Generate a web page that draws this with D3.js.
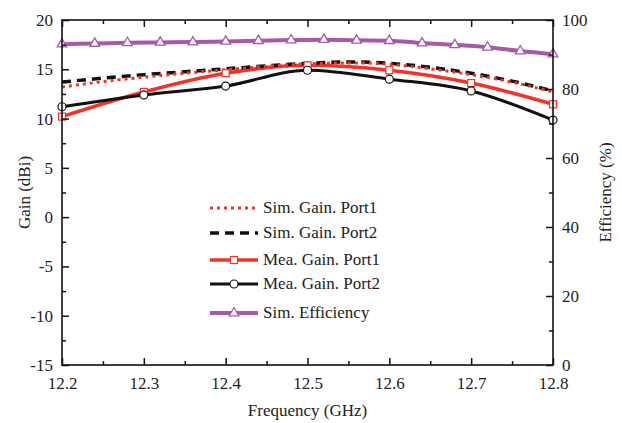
<!DOCTYPE html>
<html>
<head>
<meta charset="UTF-8">
<script src="https://cdnjs.cloudflare.com/ajax/libs/d3/7.8.5/d3.min.js"></script>
<style>
  body { margin: 0; background: #fff; }
  svg text { font-family: "Liberation Serif", "Times New Roman", serif !important; fill: #222; }
</style>
</head>
<body>
<svg width="622" height="423"></svg>
<script>
// frequencies (GHz)
const simFreq = [12.2, 12.25, 12.3, 12.35, 12.4, 12.45, 12.5, 12.55, 12.6, 12.65, 12.7, 12.75, 12.8];
const simPort1 = [13.2, 13.75, 14.2, 14.6, 14.95, 15.3, 15.55, 15.65, 15.5, 15.05, 14.45, 13.7, 12.7];
const simPort2 = [13.7, 14.1, 14.45, 14.75, 15.05, 15.35, 15.6, 15.75, 15.6, 15.2, 14.6, 13.8, 12.8];

const meaFreq = [12.2, 12.3, 12.4, 12.5, 12.6, 12.7, 12.8];
const meaPort1 = [10.2, 12.7, 14.6, 15.4, 14.9, 13.6, 11.45];
const meaPort2 = [11.2, 12.4, 13.3, 14.9, 14.0, 12.8, 9.85];

const effFreq = [12.2, 12.24, 12.28, 12.32, 12.36, 12.4, 12.44, 12.48, 12.52, 12.56, 12.6, 12.64, 12.68, 12.72, 12.76, 12.8];
const efficiency = [93.0, 93.2, 93.4, 93.5, 93.6, 93.8, 94.0, 94.2, 94.3, 94.1, 94.0, 93.3, 92.8, 92.1, 91.0, 90.1];

const xTicks = [12.2, 12.3, 12.4, 12.5, 12.6, 12.7, 12.8];
const gainTicks = [-15, -10, -5, 0, 5, 10, 15, 20];
const effTicks = [0, 20, 40, 60, 80, 100];

const svg = d3.select("svg");
const L = 62, R = 553, T = 20, B = 365;

const x = d3.scaleLinear().domain([12.2, 12.8]).range([L, R]);
const yG = d3.scaleLinear().domain([-15, 20]).range([B, T]);
const yE = d3.scaleLinear().domain([0, 100]).range([B, T]);

const red = "#f2332a", purple = "#a65aa8", black = "#111";
const fs = 17;

// series lines
function drawLine(xs, ys, yScale, color, width, dash) {
  svg.append("path")
    .datum(xs.map((f, i) => [f, ys[i]]))
    .attr("fill", "none")
    .attr("stroke", color)
    .attr("stroke-width", width)
    .attr("stroke-dasharray", dash || null)
    .attr("stroke-linejoin", "round")
    .attr("d", d3.line().x(d => x(d[0])).y(d => yScale(d[1])).curve(d3.curveMonotoneX));
}

drawLine(effFreq, efficiency, yE, purple, 4);
drawLine(meaFreq, meaPort1, yG, red, 3.5);
drawLine(meaFreq, meaPort2, yG, black, 3);
drawLine(simFreq, simPort2, yG, black, 3.5, "9,6");
drawLine(simFreq, simPort1, yG, red, 3, "3,4");

// markers
svg.selectAll(".tri").data(effFreq).enter().append("path")
  .attr("d", d3.symbol(d3.symbolTriangle, 40))
  .attr("transform", (d, i) => `translate(${x(d)},${yE(efficiency[i])})`)
  .attr("fill", "#fff").attr("stroke", purple).attr("stroke-width", 1.3);

svg.selectAll(".sq").data(meaFreq).enter().append("rect")
  .attr("x", d => x(d) - 3.5)
  .attr("y", (d, i) => yG(meaPort1[i]) - 3.5)
  .attr("width", 7).attr("height", 7)
  .attr("fill", "#fff").attr("stroke", red).attr("stroke-width", 1.2);

svg.selectAll(".circ").data(meaFreq).enter().append("circle")
  .attr("cx", d => x(d))
  .attr("cy", (d, i) => yG(meaPort2[i]))
  .attr("r", 4)
  .attr("fill", "#fff").attr("stroke", black).attr("stroke-width", 1.2);

// axes, ticks pointing inside
svg.append("g").attr("transform", `translate(0,${B})`)
  .call(d3.axisBottom(x).tickValues(xTicks).tickSize(-7).tickFormat(d3.format(".1f")).tickPadding(12));
svg.append("g").attr("transform", `translate(0,${B})`)
  .call(d3.axisBottom(x).tickValues(d3.range(12.25, 12.8, 0.1)).tickSize(-4).tickFormat(""));
svg.append("g").attr("transform", `translate(0,${T})`)
  .call(d3.axisTop(x).tickValues(xTicks).tickSize(-7).tickFormat(""));
svg.append("g").attr("transform", `translate(0,${T})`)
  .call(d3.axisTop(x).tickValues(d3.range(12.25, 12.8, 0.1)).tickSize(-4).tickFormat(""));

svg.append("g").attr("transform", `translate(${L},0)`)
  .call(d3.axisLeft(yG).tickValues(gainTicks).tickSize(-7).tickPadding(9).tickFormat(d => String(d)));
svg.append("g").attr("transform", `translate(${L},0)`)
  .call(d3.axisLeft(yG).tickValues(d3.range(-12.5, 20, 5)).tickSize(-4).tickFormat(""));

svg.append("g").attr("transform", `translate(${R},0)`)
  .call(d3.axisRight(yE).tickValues(effTicks).tickSize(-7).tickPadding(9));
svg.append("g").attr("transform", `translate(${R},0)`)
  .call(d3.axisRight(yE).tickValues(d3.range(10, 100, 20)).tickSize(-4).tickFormat(""));

svg.selectAll(".tick line").attr("stroke", "#111").attr("stroke-width", 1.5);
svg.selectAll(".domain").remove();
svg.selectAll(".tick text").attr("font-size", fs).attr("fill", "#222");

// frame
svg.append("rect").attr("x", L).attr("y", T).attr("width", R - L).attr("height", B - T)
  .attr("fill", "none").attr("stroke", "#111").attr("stroke-width", 1.6);

// axis titles
svg.append("text").attr("x", (L + R) / 2).attr("y", 416).attr("text-anchor", "middle")
  .attr("font-size", fs).text("Frequency (GHz)");
svg.append("text").attr("transform", `translate(30,${(T + B) / 2}) rotate(-90)`)
  .attr("text-anchor", "middle").attr("font-size", fs).text("Gain (dBi)");
svg.append("text").attr("transform", `translate(611,${(T + B) / 2}) rotate(-90)`)
  .attr("text-anchor", "middle").attr("font-size", fs).text("Efficiency (%)");

// legend
const legendNames = ["Sim. Gain. Port1", "Sim. Gain. Port2", "Mea. Gain. Port1", "Mea. Gain. Port2", "Sim. Efficiency"];
const legendY = [208, 233, 260, 284, 313];
const lx1 = 210, lx2 = 258;
const lg = svg.append("g");
const styles = [
  { c: red, w: 3, dash: "3,4" },
  { c: black, w: 3.5, dash: "9,6" },
  { c: red, w: 3.5, m: "sq" },
  { c: black, w: 3, m: "circ" },
  { c: purple, w: 4, m: "tri" }
];
legendNames.forEach((name, i) => {
  const s = styles[i], yy = legendY[i];
  lg.append("line").attr("x1", lx1).attr("x2", lx2).attr("y1", yy).attr("y2", yy)
    .attr("stroke", s.c).attr("stroke-width", s.w).attr("stroke-dasharray", s.dash || null);
  const cx = (lx1 + lx2) / 2;
  if (s.m === "sq") lg.append("rect").attr("x", cx - 3.5).attr("y", yy - 3.5).attr("width", 7).attr("height", 7)
    .attr("fill", "#fff").attr("stroke", s.c).attr("stroke-width", 1.2);
  if (s.m === "circ") lg.append("circle").attr("cx", cx).attr("cy", yy).attr("r", 4)
    .attr("fill", "#fff").attr("stroke", s.c).attr("stroke-width", 1.2);
  if (s.m === "tri") lg.append("path").attr("d", d3.symbol(d3.symbolTriangle, 40))
    .attr("transform", `translate(${cx},${yy})`).attr("fill", "#fff").attr("stroke", s.c).attr("stroke-width", 1.3);
  lg.append("text").attr("x", 263).attr("y", yy + 5).attr("font-size", fs).text(name);
});
</script>
</body>
</html>
